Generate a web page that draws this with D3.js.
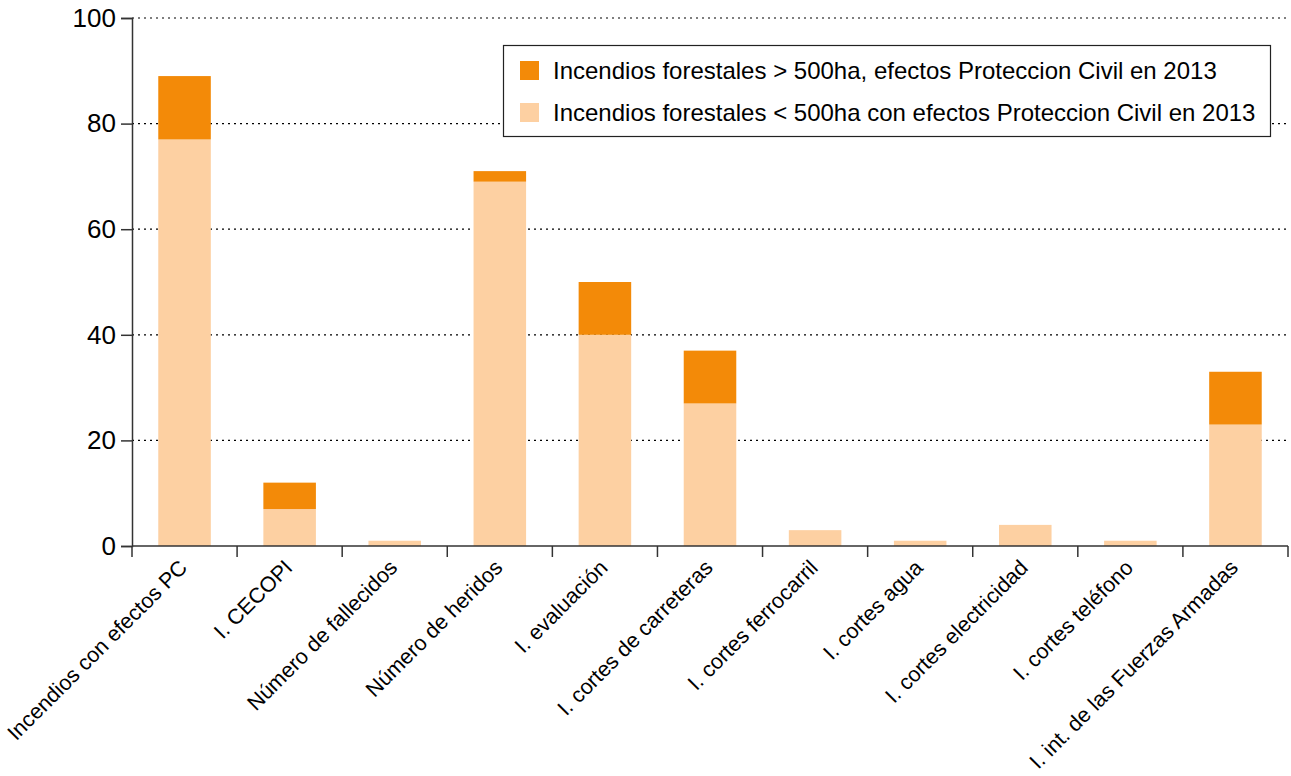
<!DOCTYPE html>
<html><head><meta charset="utf-8">
<script src="https://cdn.jsdelivr.net/npm/d3@7"></script>
<style>body{margin:0;background:#fff}svg{display:block}text{font-family:"Liberation Sans",Arial,Helvetica,sans-serif;fill:#000}</style>
</head><body><svg id="c" width="1291" height="776"></svg>
<script>
const categories = ["Incendios con efectos PC","I. CECOPI","Número de fallecidos","Número de heridos","I. evaluación","I. cortes de carreteras","I. cortes  ferrocarril","I. cortes agua","I. cortes electricidad","I. cortes teléfono","I. int. de las Fuerzas Armadas"];
const small = [77,7,1,69,40,27,3,1,4,1,23];
const large = [12,5,0,2,10,10,0,0,0,0,10];
const seriesNames = ["Incendios forestales > 500ha, efectos Proteccion Civil en 2013","Incendios forestales < 500ha con efectos Proteccion Civil en 2013"];
const yTicks = [0,20,40,60,80,100];
const colors = {large:"#f38a08", small:"#fdd0a2"};

const svg = d3.select("#c");
const L=132, R=1288, T=18, B=546;
const x = d3.scaleBand().domain(categories).range([L,R]).paddingInner(0.5).paddingOuter(0.25);
const y = d3.scaleLinear().domain([0,100]).range([B,T]);

// grid
svg.append("g").selectAll("line").data(yTicks.filter(d=>d>0)).join("line")
  .attr("x1",L).attr("x2",R).attr("y1",d=>y(d)).attr("y2",d=>y(d))
  .attr("stroke","#000").attr("stroke-width",1.2).attr("stroke-dasharray","2,4");

// bars
const data = categories.map((c,i)=>({c,s:small[i],l:large[i]}));
svg.append("g").selectAll("rect").data(data).join("rect")
  .attr("x",d=>x(d.c)).attr("width",x.bandwidth())
  .attr("y",d=>y(d.s)).attr("height",d=>y(0)-y(d.s)).attr("fill",colors.small);
svg.append("g").selectAll("rect").data(data.filter(d=>d.l>0)).join("rect")
  .attr("x",d=>x(d.c)).attr("width",x.bandwidth())
  .attr("y",d=>y(d.s+d.l)).attr("height",d=>y(d.s)-y(d.s+d.l)).attr("fill",colors.large);

// y axis
const ya = svg.append("g").attr("transform",`translate(${L},0)`)
  .call(d3.axisLeft(y).tickValues(yTicks).tickSize(11).tickPadding(5));
ya.select(".domain").attr("stroke","#333").attr("stroke-width",1.5);
ya.selectAll(".tick line").attr("stroke","#333").attr("stroke-width",1.5);
ya.selectAll("text").attr("font-size",26).attr("fill","#000").attr("font-family","Liberation Sans, Arial, sans-serif");

// x axis: baseline + ticks at band boundaries
const bounds = d3.range(categories.length+1).map(i=>L+i*(R-L)/categories.length);
svg.append("line").attr("x1",L).attr("x2",R).attr("y1",B).attr("y2",B).attr("stroke","#333").attr("stroke-width",1.5);
svg.append("g").selectAll("line").data(bounds).join("line")
  .attr("x1",d=>d).attr("x2",d=>d).attr("y1",B).attr("y2",B+11).attr("stroke","#333").attr("stroke-width",1.5);
svg.append("g").selectAll("text").data(categories).join("text")
  .attr("transform",d=>`translate(${x(d)+x.bandwidth()/2+4},${B+23}) rotate(-45)`)
  .attr("text-anchor","end").attr("font-size",21.5).text(d=>d);

// legend
const lg = svg.append("g");
lg.append("rect").attr("x",503.5).attr("y",45.5).attr("width",767).attr("height",91).attr("fill","#fff").attr("stroke","#222").attr("stroke-width",1.2);
const lcol=[colors.large,colors.small];
seriesNames.forEach((n,i)=>{
  const yy = 71 + i*42;
  lg.append("rect").attr("x",520).attr("y",yy-10).attr("width",19).attr("height",19).attr("fill",lcol[i]);
  lg.append("text").attr("x",553).attr("y",yy+8).attr("font-size",24).text(n);
});
</script></body></html>
